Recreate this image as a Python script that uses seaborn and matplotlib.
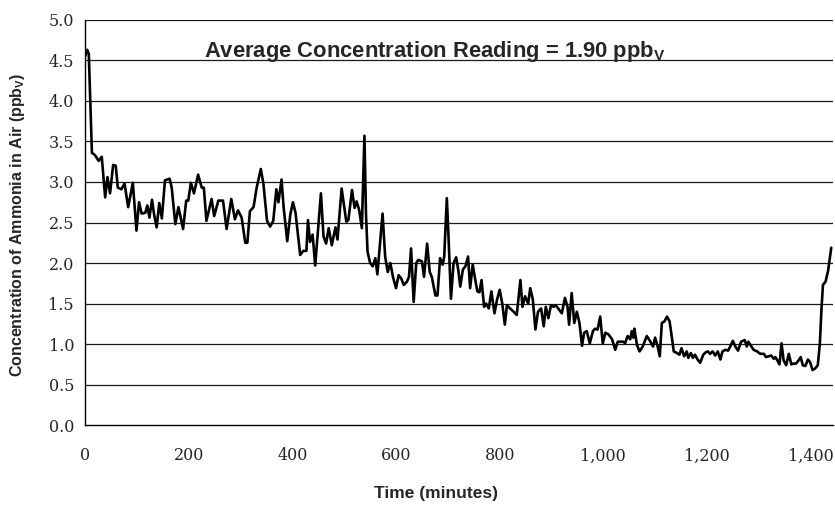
import matplotlib
matplotlib.use("Agg")
import matplotlib.pyplot as plt
import matplotlib.ticker as mticker
import seaborn as sns
import pandas as pd

time_min = [0, 4, 7, 13, 19, 26, 32, 38.6, 43, 48, 54, 59, 63, 70, 76, 83, 92, 99, 104, 109, 116, 120, 124, 129, 133, 138, 143, 148, 154, 163, 167, 174, 180, 189, 195, 199, 204, 210, 218, 225, 229, 234, 244, 249, 257, 266, 273, 282, 289, 295, 302, 309, 313, 318, 325, 331, 339, 344, 351, 357, 363, 369, 373, 379, 383, 390, 396, 401, 406, 415, 421, 427, 430, 434, 439, 444, 448, 455, 460, 465, 470, 476, 483, 487, 495, 504, 508, 515, 520, 524, 529, 534, 539, 542, 545, 550, 555, 560, 564, 569, 574, 579, 584, 589, 594, 600, 605, 610, 615, 621, 625, 629, 634, 639, 643, 650, 654, 660, 665, 669, 676, 680, 685, 690, 693, 698, 701, 706, 711, 716, 720, 724, 729, 734, 739, 743, 748, 753, 757, 761, 765, 770, 774, 779, 784, 790, 795, 800, 805, 810, 814, 820, 827, 833, 840, 844, 849, 855, 859, 864, 869, 874, 880, 885, 889, 894, 899, 904, 908, 913, 920, 926, 931, 934, 939, 944, 949, 954, 959, 963, 968, 974, 980, 984, 989, 994, 999, 1004, 1010, 1017, 1023, 1028, 1033, 1039, 1042, 1047, 1052, 1055, 1058, 1060, 1065, 1070, 1076, 1084, 1091, 1096, 1100, 1105, 1109, 1113, 1118, 1123, 1128, 1132, 1136, 1142, 1147, 1151, 1156, 1161, 1164, 1169, 1173, 1177, 1182, 1187, 1193, 1198, 1202, 1206, 1211, 1216, 1221, 1226, 1230, 1236, 1241, 1245, 1250, 1255, 1260, 1266, 1273, 1277, 1280, 1286, 1290, 1297, 1303, 1310, 1314, 1319, 1324, 1329, 1332, 1335, 1340, 1344, 1348, 1353, 1358, 1363, 1367, 1372, 1377, 1381, 1385, 1390, 1395, 1399, 1404, 1409, 1414, 1418, 1421, 1424, 1429, 1434, 1440]

ammonia_ppbv = [4.55, 4.63, 4.58, 3.36, 3.33, 3.26, 3.31, 2.81, 3.06, 2.86, 3.21, 3.20, 2.93, 2.91, 2.98, 2.69, 2.99, 2.40, 2.75, 2.61, 2.62, 2.71, 2.56, 2.78, 2.60, 2.44, 2.74, 2.55, 3.02, 3.04, 2.93, 2.48, 2.69, 2.42, 2.77, 2.77, 2.99, 2.86, 3.09, 2.93, 2.93, 2.52, 2.79, 2.58, 2.77, 2.77, 2.42, 2.79, 2.54, 2.65, 2.56, 2.25, 2.25, 2.64, 2.69, 2.93, 3.16, 2.98, 2.52, 2.45, 2.52, 2.91, 2.75, 3.03, 2.69, 2.27, 2.60, 2.75, 2.62, 2.10, 2.15, 2.15, 2.53, 2.26, 2.35, 1.97, 2.30, 2.86, 2.33, 2.24, 2.43, 2.22, 2.44, 2.29, 2.92, 2.51, 2.53, 2.90, 2.68, 2.76, 2.65, 2.43, 3.57, 2.60, 2.14, 2.00, 1.96, 2.06, 1.86, 2.24, 2.61, 2.08, 1.89, 2.00, 1.83, 1.69, 1.85, 1.81, 1.73, 1.77, 1.83, 2.18, 1.52, 2.00, 2.04, 2.02, 1.83, 2.24, 1.89, 1.83, 1.60, 1.60, 2.06, 1.98, 2.08, 2.80, 2.37, 1.56, 2.00, 2.07, 1.92, 1.71, 1.92, 1.96, 2.08, 1.69, 1.98, 1.79, 1.65, 1.64, 1.79, 1.46, 1.50, 1.44, 1.65, 1.38, 1.55, 1.67, 1.50, 1.24, 1.48, 1.44, 1.40, 1.36, 1.79, 1.46, 1.59, 1.50, 1.69, 1.55, 1.18, 1.40, 1.44, 1.22, 1.46, 1.32, 1.48, 1.46, 1.48, 1.44, 1.38, 1.57, 1.46, 1.24, 1.63, 1.26, 1.40, 1.26, 0.98, 1.14, 1.16, 1.01, 1.16, 1.19, 1.18, 1.34, 1.01, 1.14, 1.12, 1.06, 0.93, 1.03, 1.03, 1.03, 1.01, 1.10, 1.06, 1.16, 1.08, 1.19, 0.99, 0.91, 0.97, 1.10, 1.03, 0.97, 1.08, 0.97, 0.85, 1.26, 1.28, 1.34, 1.28, 1.10, 0.91, 0.89, 0.87, 0.95, 0.85, 0.91, 0.83, 0.89, 0.83, 0.87, 0.81, 0.77, 0.87, 0.90, 0.91, 0.88, 0.91, 0.86, 0.91, 0.81, 0.91, 0.93, 0.92, 0.97, 1.04, 0.97, 0.92, 1.03, 1.05, 0.97, 1.03, 0.97, 0.93, 0.91, 0.88, 0.88, 0.84, 0.85, 0.86, 0.82, 0.84, 0.81, 0.75, 1.01, 0.80, 0.74, 0.88, 0.75, 0.76, 0.76, 0.80, 0.84, 0.74, 0.73, 0.81, 0.78, 0.68, 0.70, 0.74, 1.01, 1.42, 1.73, 1.77, 1.91, 2.19]

y_ticks = [0.0, 0.5, 1.0, 1.5, 2.0, 2.5, 3.0, 3.5, 4.0, 4.5, 5.0]
x_ticks = [0, 200, 400, 600, 800, 1000, 1200, 1400]
annotation = "Average Concentration Reading = 1.90 ppb$_\\mathregular{V}$"
x_label = "Time (minutes)"
y_label = "Concentration of Ammonia in Air (ppb$_\\mathregular{V}$)"

df = pd.DataFrame({"Time": time_min, "Ammonia": ammonia_ppbv})

sns.set_style("white")
plt.rcParams["font.family"] = ["Liberation Sans", "DejaVu Sans"]
plt.rcParams["mathtext.fontset"] = "custom"
plt.rcParams["mathtext.rm"] = "Liberation Sans:bold"
plt.rcParams["mathtext.bf"] = "Liberation Sans:bold"

fig = plt.figure(figsize=(8.35, 5.08), dpi=100)
ax = fig.add_axes([0.102, 0.163, 0.896, 0.798])

for yv in y_ticks[1:]:
    ax.axhline(yv, color="#1a1a1a", lw=0.9, zorder=1)

sns.lineplot(data=df, x="Time", y="Ammonia", color="black", lw=1.9, ax=ax, zorder=3)

ax.set_xlim(0, 1444)
ax.set_ylim(0, 5.0)
ax.set_yticks(y_ticks)
ax.set_xticks(x_ticks)
ax.yaxis.set_major_formatter(mticker.FormatStrFormatter("%.1f"))
ax.xaxis.set_major_formatter(mticker.FuncFormatter(lambda v, p: f"{int(v):,}"))

for s in ["top", "right"]:
    ax.spines[s].set_visible(False)
for s in ["left", "bottom"]:
    ax.spines[s].set_color("black")
    ax.spines[s].set_linewidth(1.0)

ax.tick_params(axis="both", direction="inout", length=8, width=0.9, color="black")
ax.tick_params(axis="x", pad=12)
ax.tick_params(axis="y", pad=4)
for lab in ax.get_xticklabels() + ax.get_yticklabels():
    lab.set_fontfamily(["DejaVu Serif"])
    lab.set_fontsize(11.5)

ax.set_xlabel(x_label, fontsize=12.5, fontweight="bold")
ax.xaxis.set_label_coords((436 - 85) / (0.896 * 835), -(493 - 425) / (0.798 * 508))
ax.xaxis.label.set_va("center")
ax.set_ylabel(y_label, fontsize=11.5, fontweight="bold")
ax.yaxis.set_label_coords((17 - 85) / (0.896 * 835), (425 - 225) / (0.798 * 508))
ax.yaxis.label.set_va("center")

fig.text(435 / 835, 1 - 51 / 508, annotation, ha="center", va="center",
         fontsize=15.8, fontweight="bold")

fig.savefig("out.png", dpi=100)
